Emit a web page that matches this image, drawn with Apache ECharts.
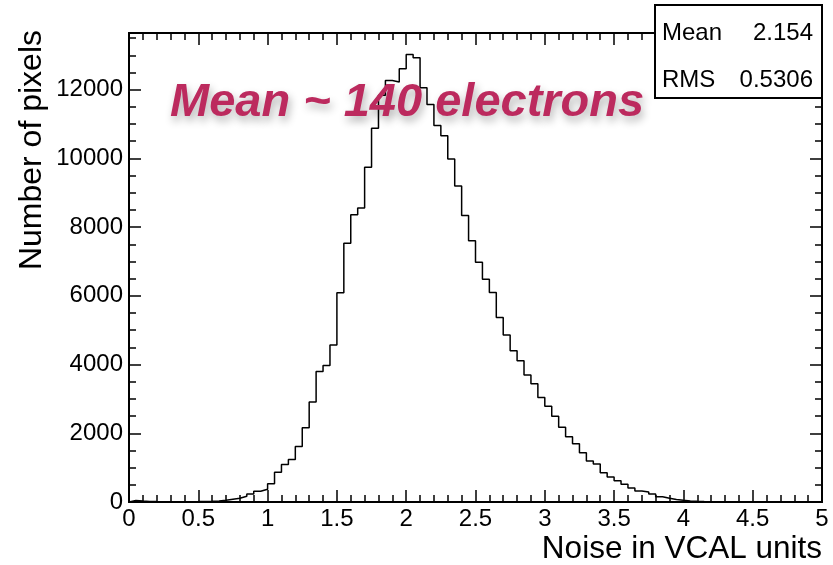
<!DOCTYPE html>
<html>
<head>
<meta charset="utf-8">
<script src="https://cdn.jsdelivr.net/npm/echarts@6/dist/echarts.min.js"></script>
<style>
  html, body { margin: 0; padding: 0; background: #fff; }
  #chart { width: 833px; height: 565px; }
</style>
</head>
<body>
<div id="chart"></div>
<script>
// histogram: 100 bins of 0.05 from 0 to 5
const binWidth = 0.05;
const counts = [
  45, 30, 18, 12, 8, 6, 6, 7, 9, 12,
  16, 20, 28, 49, 78, 107, 165, 233, 311, 369,
  529, 868, 1095, 1237, 1618, 2160, 2912, 3797, 3975, 4572,
  6092, 7532, 8362, 8556, 9742, 10880, 11837, 12266, 12227, 12606,
  13024, 12927, 12053, 11566, 10960, 10662, 9982, 9195, 8339, 7600,
  6980, 6484, 6094, 5370, 4860, 4403, 4111, 3694, 3440, 3045,
  2790, 2499, 2178, 1900, 1692, 1435, 1195, 1108, 850, 725,
  620, 520, 408, 321, 290, 230, 155, 108, 75, 50,
  32, 20, 14, 10, 8, 6, 5, 4, 3, 3,
  2, 2, 2, 1, 1, 1, 1, 1, 1, 1
];
const xTitle = 'Noise in VCAL units';
const yTitle = 'Number of pixels';
const statNames = ['Mean', 'RMS'];
const statValues = ['2.154', '0.5306'];
const note = 'Mean ~ 140 electrons';

const xMax = 5;
const yMax = 13650;

// step outline points (left edge of each bin, plus closing edge)
const steps = [[0, 0]];
counts.forEach((c, i) => steps.push([+(i * binWidth).toFixed(2), c]));
steps.push([xMax, counts[counts.length - 1]]);
steps.push([xMax, 0]);

const fontName = 'Liberation Sans, Arial, sans-serif';
const labelFont = { fontFamily: fontName, fontSize: 24, color: '#000' };
const axisLine = { show: true, onZero: false, lineStyle: { color: '#000', width: 2 } };

function xAx(pos, labels) {
  return {
    type: 'value', position: pos, min: 0, max: xMax, interval: 0.5,
    axisLine: axisLine,
    axisTick: { show: true, inside: true, length: 12, lineStyle: { color: '#000', width: 1.5 } },
    minorTick: { show: true, splitNumber: 5, length: 7, lineStyle: { color: '#000', width: 1.5 } },
    splitLine: { show: false },
    axisLabel: Object.assign({ show: labels, margin: 5 }, labelFont)
  };
}
function yAx(pos, interval, tickLen, labels) {
  return {
    type: 'value', position: pos, min: 0, max: yMax, interval: interval,
    axisLine: axisLine,
    axisTick: { show: true, inside: true, length: tickLen, lineStyle: { color: '#000', width: 1.5 } },
    splitLine: { show: false },
    axisLabel: Object.assign({
      show: labels, margin: 6, showMaxLabel: false,
      formatter: v => String(v)
    }, labelFont)
  };
}

const chart = echarts.init(document.getElementById('chart'));
chart.setOption({
  animation: false,
  backgroundColor: '#fff',
  grid: { left: 129, right: 11, top: 33, bottom: 63, outerBoundsMode: 'none' },
  xAxis: [xAx('bottom', true), xAx('top', false)],
  yAxis: [
    yAx('left', 2000, 12, true),
    yAx('left', 500, 7, false),
    yAx('right', 2000, 12, false),
    yAx('right', 500, 7, false)
  ],
  series: [{
    type: 'line',
    step: 'end',
    xAxisIndex: 0,
    yAxisIndex: 0,
    symbol: 'none',
    data: steps,
    lineStyle: { color: '#000', width: 1.5 }
  }],
  graphic: [
    {
      type: 'text', x: 822, y: 549,
      style: { text: xTitle, align: 'right', verticalAlign: 'middle',
        font: '31.5px ' + fontName, fill: '#000' }
    },
    {
      type: 'text', x: 32, y: 30, rotation: Math.PI / 2,
      style: { text: yTitle, align: 'right', verticalAlign: 'middle',
        font: '32px ' + fontName, fill: '#000' }
    },
    {
      type: 'text', x: 170, y: 103, z: 10,
      style: { text: note, align: 'left', verticalAlign: 'middle',
        font: 'italic bold 47px ' + fontName, fill: '#bc2a5e',
        textShadowColor: 'rgba(0,0,0,0.3)', textShadowBlur: 8,
        textShadowOffsetX: 2, textShadowOffsetY: 5 }
    },
    {
      type: 'rect', z: 20,
      shape: { x: 655, y: 5, width: 167, height: 93 },
      style: { fill: '#fff', stroke: '#000', lineWidth: 2 }
    },
    {
      type: 'text', x: 662, y: 33, z: 21,
      style: { text: statNames[0], verticalAlign: 'middle', font: '24px ' + fontName, fill: '#000' }
    },
    {
      type: 'text', x: 813, y: 33, z: 21,
      style: { text: statValues[0], align: 'right', verticalAlign: 'middle', font: '24px ' + fontName, fill: '#000' }
    },
    {
      type: 'text', x: 662, y: 80, z: 21,
      style: { text: statNames[1], verticalAlign: 'middle', font: '24px ' + fontName, fill: '#000' }
    },
    {
      type: 'text', x: 813, y: 80, z: 21,
      style: { text: statValues[1], align: 'right', verticalAlign: 'middle', font: '24px ' + fontName, fill: '#000' }
    }
  ]
});
</script>
</body>
</html>
